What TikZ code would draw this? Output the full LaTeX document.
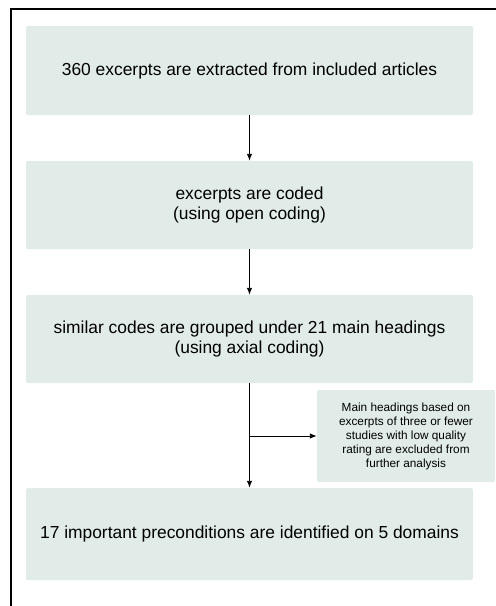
\documentclass[tikz,border=0pt]{standalone}
\usepackage{fontspec}
\setmainfont{Liberation Sans}
\usetikzlibrary{arrows.meta}
\definecolor{boxfill}{HTML}{E1ECE8}
\begin{document}
\begin{tikzpicture}[x=1pt,y=-1pt,
  mainbox/.style={fill=boxfill, rounded corners=2pt, minimum width=447pt, align=center, font=\fontsize{17.4}{20.5}\selectfont, inner sep=0pt},
  sidebox/.style={fill=boxfill, rounded corners=2pt, minimum width=178pt, minimum height=92pt, align=center, font=\fontsize{11.8}{14}\selectfont, inner sep=0pt},
  arr/.style={draw=black, line width=0.9pt, -{Latex[length=7pt,width=5.5pt]}}]
\useasboundingbox (0,0) rectangle (496,606);
\draw[line width=1.4pt] (11,606) -- (11,9) -- (496,9);
\node[mainbox, minimum height=89pt] (b1) at (249.5,70.5) {360 excerpts are extracted from included articles};
\node[mainbox, minimum height=88pt] (b2) at (249.5,205) {excerpts are coded\\(using open coding)};
\node[mainbox, minimum height=88pt] (b3) at (249.5,339) {similar codes are grouped under 21 main headings\\(using axial coding)};
\node[mainbox, minimum height=92pt] (b4) at (249.5,534) {17 important preconditions are identified on 5 domains};
\node[sidebox] (s) at (406,436) {Main headings based on\\excerpts of three or fewer\\studies with low quality\\rating are excluded from\\further analysis};
\coordinate (j) at (b3.south |- s.west);
\draw[arr] (b1) -- (b2);
\draw[arr] (b2) -- (b3);
\draw[arr] (b3) -- (b4);
\draw[arr] (j) -- (s.west);
\end{tikzpicture}
\end{document}
